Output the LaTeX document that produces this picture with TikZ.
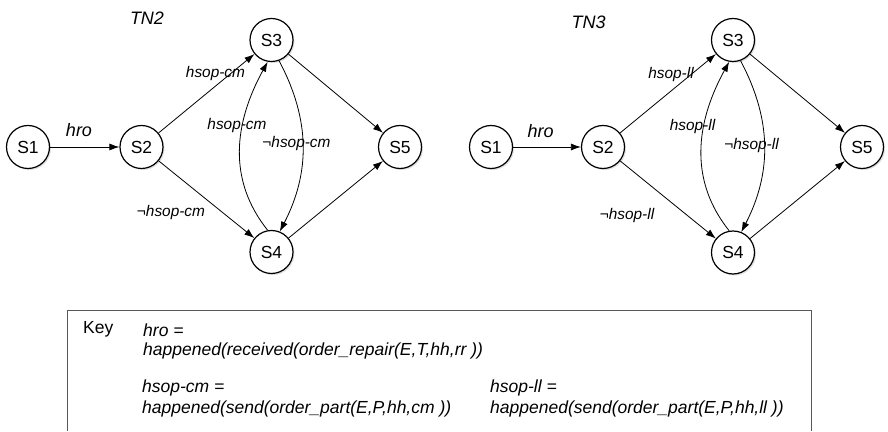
\documentclass[tikz,border=0pt]{standalone}
\usepackage{fontspec}
\setmainfont{Liberation Sans}
\usetikzlibrary{arrows.meta,shadows}
\begin{document}
\begin{tikzpicture}[x=1pt,y=1pt,
  state/.style={circle,draw,line width=1.2pt,minimum size=43pt,inner sep=0pt,
    fill=white,font=\fontsize{17.5}{20}\selectfont,
    drop shadow={opacity=0.25,shadow xshift=1.5pt,shadow yshift=-1.5pt}},
  trans/.style={-{Latex[length=10pt,width=7pt]},line width=0.8pt},
  elabel/.style={font=\fontsize{15.4}{18}\selectfont\itshape,anchor=base,inner sep=0pt},
  biglabel/.style={font=\fontsize{18}{20}\selectfont\itshape,anchor=base,inner sep=0pt},
  keytext/.style={font=\fontsize{17.5}{20}\selectfont\itshape,anchor=base west,inner sep=0pt},
  keyframe/.style={line width=1pt,draw=black!65}
]
\useasboundingbox (0,0) rectangle (888,431);

% ---------- network TN2 ----------
\node[biglabel] (tn2) at (147,406) {TN2};
\node[state] (a1) at (28,284) {S1};
\node[state] (a2) at (141.5,284) {S2};
\node[state] (a3) at (271.5,391) {S3};
\node[state] (a4) at (271.5,179) {S4};
\node[state] (a5) at (400,284) {S5};

\draw[trans] (a1) -- (a2);
\draw[trans] (a2) -- (a3);
\draw[trans] (a2) -- (a4);
\draw[trans] (a3) -- (a5);
\draw[trans] (a4) -- (a5);
\draw[trans] (a4.100) .. controls +(-40,50) and +(-34,-62) .. (a3.-100);
\draw[trans] (a3.-70) .. controls +(32,-60) and +(30,58) .. (a4.68);

\node[biglabel] (la1) at (79,294) {hro};
\node[elabel] (la2) at (215.5,353) {hsop-cm};
\node[elabel] (la3) at (237,301) {hsop-cm};
\node[elabel] (la4) at (296.5,283) {¬hsop-cm};
\node[elabel] (la5) at (171,214) {¬hsop-cm};

% ---------- network TN3 ----------
\node[biglabel] (tn3) at (588.5,402) {TN3};
\node[state] (b1) at (491,284) {S1};
\node[state] (b2) at (603,284) {S2};
\node[state] (b3) at (733,391) {S3};
\node[state] (b4) at (733,178.5) {S4};
\node[state] (b5) at (862,284) {S5};

\draw[trans] (b1) -- (b2);
\draw[trans] (b2) -- (b3);
\draw[trans] (b2) -- (b4);
\draw[trans] (b3) -- (b5);
\draw[trans] (b4) -- (b5);
\draw[trans] (b4.100) .. controls +(-40,50) and +(-34,-62) .. (b3.-100);
\draw[trans] (b3.-70) .. controls +(32,-60) and +(30,58) .. (b4.68);

\node[biglabel] (lb1) at (540.5,293) {hro};
\node[elabel] (lb2) at (671,352) {hsop-ll};
\node[elabel] (lb3) at (692.5,300) {hsop-ll};
\node[elabel] (lb4) at (751.5,281) {¬hsop-ll};
\node[elabel] (lb5) at (627,211) {¬hsop-ll};

% ---------- key ----------
\coordinate (kbl) at (67,0);
\coordinate (ktl) at (67,120);
\coordinate (ktr) at (811,120);
\coordinate (kbr) at (811,0);
\draw[keyframe] (kbl) -- (ktl) -- (ktr) -- (kbr);

\node[anchor=base west,inner sep=0pt,font=\fontsize{17.5}{20}\selectfont] (key) at (83,97) {Key};
\node[keytext] (k1) at (143,95) {hro =};
\node[keytext] (k2) at (143,75) {happened(received(order\_repair(E,T,hh,rr ))};
\node[keytext] (k3) at (142,39) {hsop-cm =};
\node[keytext] (k4) at (142,18) {happened(send(order\_part(E,P,hh,cm ))};
\node[keytext] (k5) at (490,39) {hsop-ll =};
\node[keytext] (k6) at (490,18) {happened(send(order\_part(E,P,hh,ll ))};
\end{tikzpicture}
\end{document}
